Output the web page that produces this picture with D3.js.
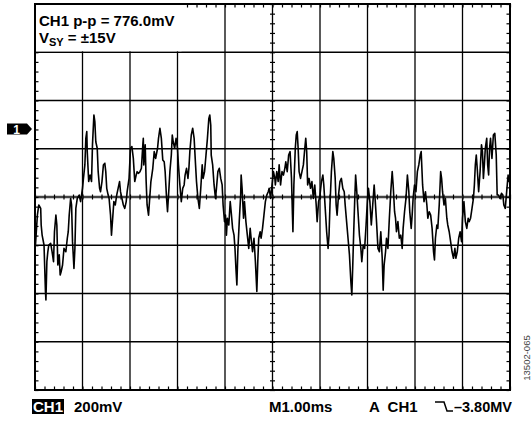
<!DOCTYPE html>
<html>
<head>
<meta charset="utf-8">
<script src="https://cdn.jsdelivr.net/npm/d3@7"></script>
<style>
  body { margin: 0; background: #fff; }
  svg { display: block; font-family: "Liberation Sans", Arial, sans-serif; }
</style>
</head>
<body>
<div class="svg-container"></div>
<script>
// scope settings
const timePerDiv = 1;      // ms
const voltsPerDiv = 200;   // mV
const timeDivs = 10;
const voltDivs = 8;
const minorPerDiv = 5;

// CH1 trace (time in ms from left edge, level in mV from centre)
const timeMs = [
  0.00, 0.01, 0.05, 0.08, 0.12, 0.13, 0.15, 0.19, 0.22, 0.23, 0.25, 0.27, 0.29, 0.33, 0.36, 0.39,
  0.41, 0.44, 0.46, 0.48, 0.51, 0.53, 0.55, 0.58, 0.61, 0.65, 0.68, 0.70, 0.72, 0.75, 0.77, 0.79,
  0.82, 0.84, 0.86, 0.89, 0.93, 0.96, 1.00, 1.02, 1.05, 1.07, 1.09, 1.10, 1.13, 1.16, 1.19, 1.21,
  1.24, 1.26, 1.28, 1.31, 1.33, 1.36, 1.38, 1.41, 1.44, 1.47, 1.49, 1.51, 1.54, 1.56, 1.59, 1.61,
  1.64, 1.66, 1.69, 1.72, 1.75, 1.78, 1.80, 1.83, 1.86, 1.89, 1.92, 1.94, 1.98, 2.01, 2.04, 2.07,
  2.10, 2.13, 2.15, 2.18, 2.21, 2.24, 2.27, 2.28, 2.29, 2.32, 2.34, 2.36, 2.39, 2.41, 2.44, 2.46,
  2.48, 2.51, 2.54, 2.58, 2.60, 2.63, 2.66, 2.69, 2.72, 2.74, 2.77, 2.79, 2.82, 2.84, 2.87, 2.89,
  2.91, 2.94, 2.97, 3.00, 3.02, 3.05, 3.08, 3.11, 3.14, 3.16, 3.19, 3.22, 3.24, 3.26, 3.29, 3.32,
  3.35, 3.38, 3.40, 3.43, 3.46, 3.49, 3.52, 3.54, 3.57, 3.60, 3.63, 3.66, 3.68, 3.70, 3.71, 3.74,
  3.77, 3.80, 3.82, 3.85, 3.88, 3.91, 3.94, 3.96, 3.99, 4.01, 4.03, 4.05, 4.08, 4.11, 4.13, 4.16,
  4.19, 4.21, 4.23, 4.25, 4.27, 4.30, 4.33, 4.34, 4.36, 4.39, 4.41, 4.44, 4.47, 4.50, 4.53, 4.55,
  4.58, 4.61, 4.64, 4.67, 4.69, 4.71, 4.74, 4.76, 4.79, 4.82, 4.85, 4.88, 4.91, 4.93, 4.96, 4.99,
  5.02, 5.05, 5.06, 5.09, 5.12, 5.14, 5.17, 5.20, 5.23, 5.26, 5.28, 5.31, 5.34, 5.37, 5.40, 5.42,
  5.43, 5.45, 5.48, 5.50, 5.52, 5.54, 5.56, 5.59, 5.62, 5.65, 5.68, 5.70, 5.72, 5.74, 5.77, 5.80,
  5.83, 5.86, 5.89, 5.92, 5.94, 5.97, 6.00, 6.03, 6.06, 6.08, 6.11, 6.14, 6.17, 6.19, 6.21, 6.24,
  6.27, 6.29, 6.32, 6.34, 6.36, 6.39, 6.42, 6.45, 6.48, 6.51, 6.53, 6.56, 6.59, 6.62, 6.65, 6.67,
  6.69, 6.71, 6.73, 6.75, 6.77, 6.80, 6.83, 6.86, 6.88, 6.91, 6.94, 6.97, 7.00, 7.02, 7.05, 7.08,
  7.11, 7.14, 7.16, 7.19, 7.22, 7.25, 7.28, 7.31, 7.33, 7.35, 7.38, 7.40, 7.43, 7.46, 7.49, 7.52,
  7.54, 7.57, 7.59, 7.61, 7.64, 7.67, 7.70, 7.73, 7.75, 7.78, 7.81, 7.84, 7.87, 7.89, 7.92, 7.94,
  7.96, 7.99, 8.02, 8.05, 8.08, 8.11, 8.13, 8.16, 8.19, 8.22, 8.25, 8.27, 8.30, 8.33, 8.36, 8.39,
  8.41, 8.43, 8.46, 8.48, 8.51, 8.54, 8.56, 8.58, 8.61, 8.64, 8.67, 8.69, 8.72, 8.75, 8.78, 8.81,
  8.84, 8.86, 8.89, 8.92, 8.95, 8.98, 9.00, 9.03, 9.06, 9.09, 9.12, 9.14, 9.17, 9.20, 9.23, 9.25,
  9.27, 9.29, 9.31, 9.34, 9.37, 9.40, 9.42, 9.44, 9.46, 9.48, 9.51, 9.53, 9.55, 9.57, 9.59, 9.62,
  9.65, 9.68, 9.71, 9.73, 9.76, 9.79, 9.82, 9.85, 9.87, 9.90, 9.93, 9.96, 9.98, 10.00
];
const traceMv = [
  -33, -199, -75, -33, -47, -116, -158, -199, -392, -427, -268, -227, -199, -192, -227, -268,
  -144, -75, -116, -282, -240, -323, -310, -282, -213, -227, -171, -144, -75, -6, -33, -185,
  -296, -213, -47, -6, 8, -19, 36, 77, 133, 243, 271, 188, 64, 91, 64, 216,
  340, 312, 229, 202, 105, 36, 22, 64, 133, 140, 105, 36, 8, -6, -75, -158,
  -75, -19, -33, 8, 36, 64, 22, -6, -33, -47, -19, 22, 77, 202, 209, 160,
  64, 91, 105, 98, 105, 119, 216, 243, 133, 216, 64, -33, -75, -19, 64, 91,
  119, 188, 160, 202, 243, 285, 243, 153, 146, 105, -6, -61, 36, 105, 174, 257,
  229, 202, 243, 202, 133, 50, -19, 36, 50, 91, 119, 77, 119, 188, 257, 285,
  243, 133, 64, -6, -47, 36, 133, 77, 105, 174, 243, 326, 340, 298, 174, 133,
  50, -6, 36, 105, 119, 77, 50, -33, -102, -75, -158, -88, -116, -19, -61, -130,
  -158, -213, -296, -365, -227, -102, 8, 91, 36, -88, -19, -102, -158, -213, -130, -171,
  -227, -171, -268, -392, -268, -171, -144, -171, -130, -75, -19, 8, 22, 36, -6, 50,
  105, 77, 50, 105, 64, 133, 50, 105, 91, 119, 146, 105, 174, 188, 77, -75,
  -144, 50, 202, 257, 271, 202, 105, 77, 105, 133, 202, 243, 188, 50, 77, 36,
  64, -6, 50, -33, -102, -19, 8, 64, 91, 50, -47, -144, -213, -158, -33, 105,
  188, 160, 77, -33, -75, 8, 64, 77, 36, 22, -33, -102, -171, -240, -351, -406,
  -282, -144, -19, 91, 36, -61, -158, -213, -268, -199, -213, -116, -6, 36, -19, -116,
  -33, 50, -6, -102, -213, -227, -144, -254, -386, -282, -227, -171, -213, -88, 22, 105,
  50, -61, -88, -144, -102, -171, -158, -213, -130, -61, -6, 91, 22, -61, -130, -75,
  -6, 50, 22, 105, 133, 174, 188, 50, -19, 22, -33, -88, -61, -75, -130, -227,
  -261, -171, -116, -130, -33, 105, 77, 22, -33, -6, -88, -116, -144, -185, -227, -254,
  -213, -254, -227, -171, -144, -185, -88, -19, -102, -130, -88, -102, -88, -47, -6, 50,
  133, 174, 119, 22, 105, 216, 188, 77, 133, 202, 243, 133, 91, 202, 243, 160,
  257, 264, 174, 8, 8, -6, 15, 8, -33, -47, 22, 91, 64, 77
];

// readout text
const chLabel = "CH1";
const ppLabel = "CH1 p-p = 776.0mV";
const supplyMain = "V";
const supplySub = "SY";
const supplyRest = " = \u00B115V";
const scaleLabel = "200mV";
const timeLabel = "M1.00ms";
const trigLabel = "A  CH1";
const trigLevel = "\u20133.80MV";
const refMarker = "1";
const figId = "13502-065";

const W = 532, H = 421;
const scrL = 35, scrR = 510, scrT = 4, scrB = 390;

const svg = d3.select(".svg-container").append("svg")
  .attr("width", W)
  .attr("height", H);

const x = d3.scaleLinear().domain([0, timeDivs * timePerDiv]).range([scrL, scrR]);
const y = d3.scaleLinear()
  .domain([-voltDivs / 2 * voltsPerDiv, voltDivs / 2 * voltsPerDiv])
  .range([scrB, scrT]);

const xMajor = d3.range(1, timeDivs).map(d => d * timePerDiv);
const yMajor = d3.range(-voltDivs / 2 + 1, voltDivs / 2).map(d => d * voltsPerDiv);
const xMinor = d3.range(0, timeDivs * minorPerDiv + 1).map(d => d * timePerDiv / minorPerDiv);
const yMinor = d3.range(-voltDivs / 2 * minorPerDiv, voltDivs / 2 * minorPerDiv + 1)
  .map(d => d * voltsPerDiv / minorPerDiv);

// grid
const grid = svg.append("g");
grid.selectAll(".vline").data(xMajor).enter().append("line")
  .attr("x1", d => x(d)).attr("x2", d => x(d))
  .attr("y1", scrT).attr("y2", scrB)
  .attr("stroke", "#000").attr("stroke-width", 1.3);
grid.selectAll(".hline").data(yMajor).enter().append("line")
  .attr("x1", scrL).attr("x2", scrR)
  .attr("y1", d => y(d)).attr("y2", d => y(d))
  .attr("stroke", d => d === 0 ? "#444" : "#000")
  .attr("stroke-width", d => d === 0 ? 2.4 : 1.3);

// minor ticks
function tickAxis(axis, tx, ty) {
  const g = svg.append("g")
    .attr("transform", "translate(" + tx + "," + ty + ")")
    .call(axis);
  g.select(".domain").remove();
  g.selectAll("text").remove();
  g.selectAll("line").attr("stroke", "#000").attr("stroke-width", 1.2);
  return g;
}
const midY = y(0), midX = x(timeDivs * timePerDiv / 2);
tickAxis(d3.axisBottom(x).tickValues(xMinor).tickSize(2.5).tickFormat(""), 0, midY);
tickAxis(d3.axisTop(x).tickValues(xMinor).tickSize(2.5).tickFormat(""), 0, midY);
tickAxis(d3.axisLeft(y).tickValues(yMinor).tickSize(2.5).tickFormat(""), midX, 0);
tickAxis(d3.axisRight(y).tickValues(yMinor).tickSize(2.5).tickFormat(""), midX, 0);

// frame ticks pointing inwards
tickAxis(d3.axisTop(x).tickValues(xMinor).tickSize(3.5).tickFormat(""), 0, scrB);
tickAxis(d3.axisBottom(x).tickValues(xMinor).tickSize(3.5).tickFormat(""), 0, scrT);
tickAxis(d3.axisRight(y).tickValues(yMinor).tickSize(3.5).tickFormat(""), scrL, 0);
tickAxis(d3.axisLeft(y).tickValues(yMinor).tickSize(3.5).tickFormat(""), scrR, 0);

// trace
const pts = timeMs.map((t, i) => [t, traceMv[i]]);
const line = d3.line()
  .x(d => x(d[0]))
  .y(d => y(d[1]));
svg.append("path")
  .datum(pts)
  .attr("d", line)
  .attr("fill", "none")
  .attr("stroke", "#000")
  .attr("stroke-width", 1.6)
  .attr("stroke-linejoin", "round");

// readout box in the top-left corner
svg.append("rect")
  .attr("x", scrL).attr("y", scrT)
  .attr("width", x(3 * timePerDiv) + 4 - scrL)
  .attr("height", y(3 * voltsPerDiv) - scrT - 1)
  .attr("fill", "#fff");

// frame
svg.append("rect")
  .attr("x", scrL).attr("y", scrT)
  .attr("width", scrR - scrL).attr("height", scrB - scrT)
  .attr("fill", "none")
  .attr("stroke", "#000")
  .attr("stroke-width", 2);

svg.append("text")
  .attr("x", 39).attr("y", 26)
  .attr("font-size", 15).attr("font-weight", "bold")
  .text(ppLabel);

const vsy = svg.append("text")
  .attr("x", 39).attr("y", 43)
  .attr("font-size", 15).attr("font-weight", "bold");
vsy.append("tspan").text(supplyMain);
vsy.append("tspan").attr("font-size", 11).attr("dy", 3).text(supplySub);
vsy.append("tspan").attr("dy", -3).text(supplyRest);

// channel reference marker
const my = 129;
svg.append("path")
  .attr("d", "M7," + (my - 5.5) + "H27L32," + my + "L27," + (my + 5.5) + "H7Z")
  .attr("fill", "#000");
svg.append("text")
  .attr("x", 16.5).attr("y", my + 4.5)
  .attr("text-anchor", "middle")
  .attr("font-size", 12).attr("font-weight", "bold")
  .attr("fill", "#fff")
  .text(refMarker);

// bottom readout
const by = 412;
svg.append("rect")
  .attr("x", 32).attr("y", by - 13)
  .attr("width", 32).attr("height", 15)
  .attr("fill", "#000");
svg.append("text")
  .attr("x", 33).attr("y", by)
  .attr("font-size", 15).attr("font-weight", "bold")
  .attr("fill", "#fff")
  .text(chLabel);
svg.append("text")
  .attr("x", 74).attr("y", by)
  .attr("font-size", 15).attr("font-weight", "bold")
  .text(scaleLabel);
svg.append("text")
  .attr("x", 269).attr("y", by)
  .attr("font-size", 15).attr("font-weight", "bold")
  .text(timeLabel);
svg.append("text")
  .attr("x", 369).attr("y", by)
  .attr("font-size", 15).attr("font-weight", "bold")
  .style("white-space", "pre")
  .text(trigLabel);
// falling edge trigger symbol
svg.append("path")
  .attr("d", "M435," + (by - 10) + "H444L447," + (by - 1) + "H453")
  .attr("fill", "none")
  .attr("stroke", "#000")
  .attr("stroke-width", 1.5);
svg.append("text")
  .attr("x", 512).attr("y", by)
  .attr("text-anchor", "end")
  .attr("font-size", 14.5).attr("font-weight", "bold")
  .text(trigLevel);

svg.append("text")
  .attr("transform", "translate(530,358) rotate(-90)")
  .attr("text-anchor", "middle")
  .attr("font-size", 9.5)
  .attr("fill", "#444")
  .text(figId);
</script>
</body>
</html>
